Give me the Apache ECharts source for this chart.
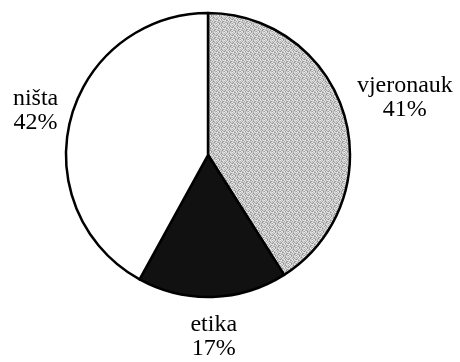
<!DOCTYPE html>
<html>
<head>
<meta charset="utf-8">
<style>
  html, body { margin: 0; padding: 0; background: #fff; }
  #chart { width: 460px; height: 362px; }
</style>
<script src="https://cdn.jsdelivr.net/npm/echarts@6/dist/echarts.min.js"></script>
</head>
<body>
<div id="chart"></div>
<script>
// Share of pupils by elective subject (percent)
var categories = ['vjeronauk', 'etika', 'ništa'];
var values = [41, 17, 42];

// Pie geometry
var CX = 208, CY = 155, R = 142;
// Radial distance of each label block from the pie centre
var labelDistance = [205, 182, 178];

// Halftone-style gray fill: a fixed 8x8 tile of scattered shade levels
function halftoneTile() {
  var rows = [
    '73615274',
    '26174036',
    '51742615',
    '04357162',
    '67026347',
    '35461720',
    '72135406',
    '16704253'
  ];
  var levels = ['#8e8e8e', '#a2a2a2', '#b0b0b0', '#bcbcbc', '#c8c8c8', '#d2d2d2', '#dedede', '#ececec'];
  var c = document.createElement('canvas');
  c.width = 8; c.height = 8;
  var ctx = c.getContext('2d');
  for (var y = 0; y < 8; y++) {
    for (var x = 0; x < 8; x++) {
      ctx.fillStyle = levels[+rows[y][x]];
      ctx.fillRect(x, y, 1, 1);
    }
  }
  return c;
}

var fills = [
  { image: halftoneTile(), repeat: 'repeat' },
  '#121112',
  '#ffffff'
];

// Mid angle of each slice, clockwise from 12 o'clock
var total = values.reduce(function (a, b) { return a + b; }, 0);
var midAngles = [];
var acc = 0;
values.forEach(function (v) {
  midAngles.push((acc + v / 2) / total * 2 * Math.PI);
  acc += v;
});

var chart = echarts.init(document.getElementById('chart'), null, { renderer: 'canvas' });
chart.setOption({
  backgroundColor: '#ffffff',
  animation: false,
  series: [{
    type: 'pie',
    center: [CX, CY],
    radius: [0, R],
    startAngle: 90,
    clockwise: true,
    avoidLabelOverlap: false,
    data: categories.map(function (name, i) {
      return { name: name, value: values[i], itemStyle: { color: fills[i] } };
    }),
    itemStyle: { borderColor: '#000000', borderWidth: 2.5 },
    emphasis: { disabled: true },
    label: {
      show: true,
      position: 'outside',
      formatter: function (p) { return p.name + '\n' + p.value + '%'; },
      fontFamily: '"Liberation Serif", "DejaVu Serif", serif',
      fontSize: 24,
      lineHeight: 24,
      color: '#000000',
      align: 'center'
    },
    labelLine: { show: false },
    labelLayout: function (params) {
      var i = params.dataIndex;
      var a = midAngles[i];
      var d = labelDistance[i];
      return {
        x: CX + d * Math.sin(a),
        y: CY - d * Math.cos(a),
        align: 'center',
        verticalAlign: 'middle'
      };
    }
  }]
});
</script>
</body>
</html>
